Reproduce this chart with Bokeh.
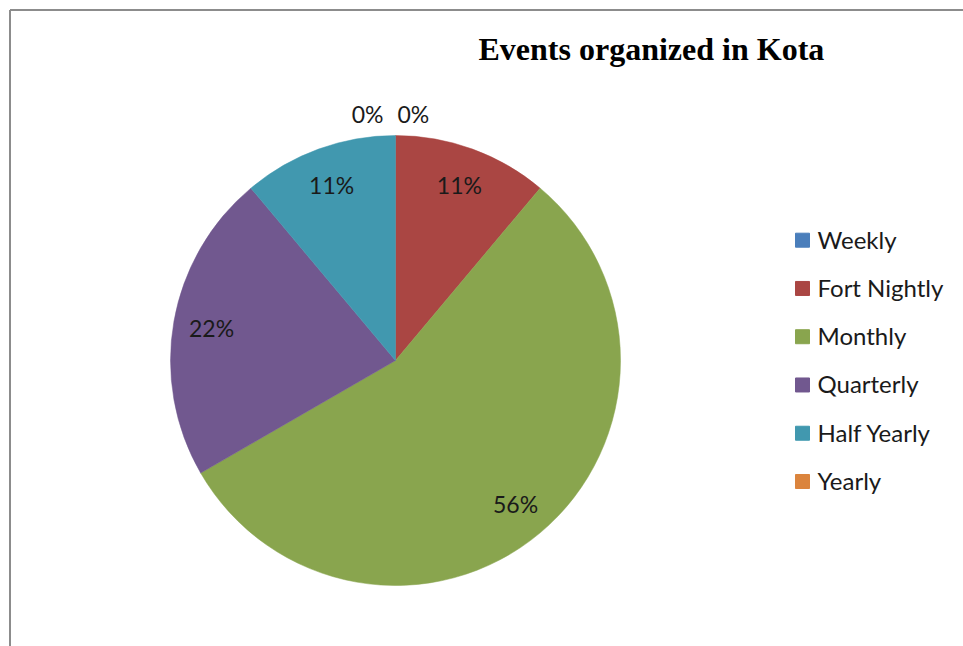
import numpy as np
from bokeh.plotting import figure
from bokeh.models import Range1d, ColumnDataSource
from bokeh.core.properties import value
from bokeh.embed import file_html
from bokeh.resources import INLINE

# ---- data ----
categories = ["Weekly", "Fort Nightly", "Monthly", "Quarterly", "Half Yearly", "Yearly"]
counts = [0, 1, 5, 2, 1, 0]
colors = ["#4A7EBB", "#AA4643", "#89A54E", "#71588F", "#4198AF", "#DB843D"]
title_text = "Events organized in Kota"

# ---- layout (pixels; data units == screen pixels, y up) ----
W, H = 963, 646
cx, cy, r = 395.0, H - 360.0, 225.0

p = figure(width=W, height=H, output_backend="svg", toolbar_location=None,
           x_range=Range1d(0, W), y_range=Range1d(0, H), min_border=0,
           tools="")
p.axis.visible = False
p.grid.visible = False
p.outline_line_color = None
p.background_fill_color = "white"

# frame (top and left edges visible in the reference)
p.line(x=[9.5, W + 5], y=[H - 9.5, H - 9.5], line_color="#8C8C8C", line_width=2)
p.line(x=[9.5, 9.5], y=[H - 9.5, -5], line_color="#8C8C8C", line_width=2)

vals = np.array(counts, dtype=float)
frac = vals / vals.sum()
cum = np.concatenate([[0], np.cumsum(frac)])
start = np.pi / 2 - cum[:-1] * 2 * np.pi
end = np.pi / 2 - cum[1:] * 2 * np.pi

nz = vals > 0
src = ColumnDataSource(dict(start=start[nz], end=end[nz], color=np.array(colors)[nz]))
p.wedge(x=cx, y=cy, radius=r, start_angle="start", end_angle="end", direction="clock",
        fill_color="color", line_color="color", line_width=0.5, source=src)

# data labels
mid = (start + end) / 2
pct = [f"{int(round(f * 100))}%" for f in frac]
lx, ly, la, lo = [], [], [], []
for i, f in enumerate(frac):
    if f > 0:
        rr = 0.83 * r
        lx.append(cx + rr * np.cos(mid[i])); ly.append(cy + rr * np.sin(mid[i]))
        la.append("center"); lo.append(0)
    else:
        rr = r + 22
        lx.append(cx + rr * np.cos(mid[i])); ly.append(cy + rr * np.sin(mid[i]))
        if i < len(frac) / 2:
            la.append("left"); lo.append(2)
        else:
            la.append("right"); lo.append(-12)
lsrc = ColumnDataSource(dict(x=lx, y=ly, t=pct, a=la, o=lo))
p.text(x="x", y="y", text="t", text_align="a", x_offset="o", text_baseline="middle",
       text_font=value("Lato"), text_font_size="23px", text_color="#1A1A1A", source=lsrc)

# title
p.text(x=[478], y=[H - 48.5], text=[title_text], text_align="left", text_baseline="middle",
       text_font=value("Liberation Serif"), text_font_style="bold", text_font_size="32px",
       text_color="black")

# legend
n = len(categories)
ly0, step = H - 239.7, 48.26
leg_y = [ly0 - i * step for i in range(n)]
p.scatter(x=[802] * n, y=leg_y, marker="square", size=14, fill_color=colors, line_color=colors)
p.text(x=[817] * n, y=[y + 1 for y in leg_y], text=categories, text_align="left",
       text_baseline="middle", text_font=value("Lato"), text_font_size="24px",
       text_color="#1A1A1A")

open("out.html", "w").write(file_html(p, INLINE))
